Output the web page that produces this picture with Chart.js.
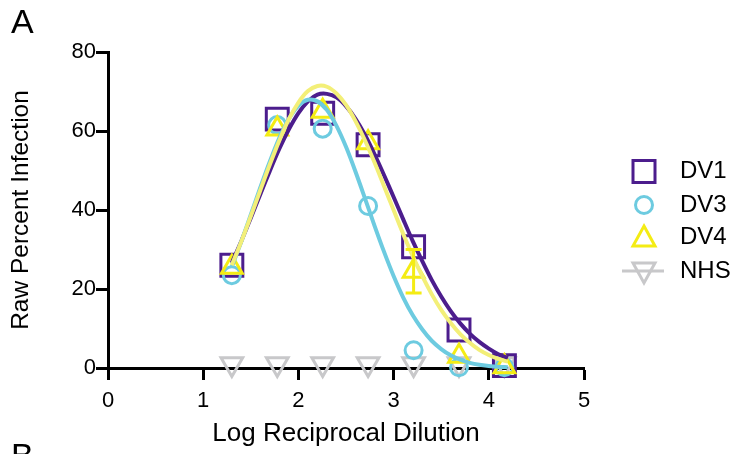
<!DOCTYPE html>
<html>
<head>
<meta charset="utf-8">
<script src="https://cdn.jsdelivr.net/npm/chart.js@4.4.1/dist/chart.umd.min.js"></script>
<style>
  html, body { margin: 0; padding: 0; background: #ffffff; }
  #wrap { width: 736px; height: 454px; position: relative; }
</style>
</head>
<body>
<div id="wrap"><canvas id="chart" width="736" height="454"></canvas></div>
<script>
// Log10 of the reciprocal serum dilutions (1:20 ... 1:14580)
const dilutions = [1.301, 1.778, 2.255, 2.732, 3.210, 3.687, 4.164];

// Mean raw percent infection per serotype
const dv1 = [26, 63, 64.5, 56.5, 30.7, 9.6, 0.6];
const dv3 = [23.5, 61.5, 60.6, 41, 4.5, 0.2, 0.2];
const dv4 = [25.5, 60.5, 65, 57, 24.5, 3, 0.3];
const nhs = [1, 1, 1, 1, 1, 1, 1];
const dv4Err = [0, 0, 0, 0, 5.5, 0, 0];

// Fitted curves, sampled every 0.1 log units from 1.3 to 4.2
const fitX = [1.3, 1.4, 1.5, 1.6, 1.7, 1.8, 1.9, 2.0, 2.1, 2.2, 2.3, 2.4, 2.5, 2.6, 2.7,
              2.8, 2.9, 3.0, 3.1, 3.2, 3.3, 3.4, 3.5, 3.6, 3.7, 3.8, 3.9, 4.0, 4.1, 4.2];
const fitDV1 = [26.6, 32.1, 38.0, 44.0, 49.9, 55.5, 60.4, 64.5, 67.5, 69.2, 69.4, 68.5, 66.3, 63.1, 59.0,
                54.1, 48.8, 43.3, 37.7, 32.2, 27.1, 22.3, 18.1, 14.4, 11.3, 8.7, 6.6, 4.9, 3.5, 2.5];
const fitDV3 = [25.6, 32.0, 38.8, 45.7, 52.3, 58.3, 63.1, 66.4, 67.9, 67.5, 65.3, 61.3, 56.0, 49.7, 42.9,
                36.0, 29.4, 23.3, 17.9, 13.4, 9.8, 6.9, 4.8, 3.2, 2.1, 1.3, 0.8, 0.5, 0.3, 0.2];
const fitDV4 = [26.0, 32.0, 38.4, 45.0, 51.5, 57.6, 63.0, 67.2, 70.1, 71.4, 71.2, 69.5, 66.6, 62.5, 57.6,
                52.0, 46.0, 40.0, 34.0, 28.4, 23.3, 18.7, 14.7, 11.4, 8.6, 6.4, 4.6, 3.3, 2.3, 1.6];

const xTicks = [0, 1, 2, 3, 4, 5];
const yTicks = [0, 20, 40, 60, 80];
const seriesNames = ['DV1', 'DV3', 'DV4', 'NHS'];

const PURPLE = '#4C1D8D';
const CYAN = '#6DCBE0';
const YELLOW = '#F4EC14';
const YELLOW_FIT = '#F3EF78';
const GREY = '#C8C8CA';
const FONT = '"Liberation Sans", Arial, sans-serif';

const pts = (xs, ys) => xs.map((x, i) => ({ x: x, y: ys[i] }));

function markerSet(label, ys, color, style, radius, order, rotation) {
  return {
    label: label,
    data: pts(dilutions, ys),
    showLine: false,
    pointStyle: style,
    pointRadius: radius,
    pointHoverRadius: radius,
    pointRotation: rotation || 0,
    pointBorderColor: color,
    pointBackgroundColor: 'rgba(0,0,0,0)',
    pointBorderWidth: 3,
    borderColor: color,
    backgroundColor: 'rgba(0,0,0,0)',
    order: order,
    clip: false
  };
}

function fitSet(ys, color, order) {
  return {
    label: 'fit',
    data: pts(fitX, ys),
    showLine: true,
    pointRadius: 0,
    pointHoverRadius: 0,
    borderColor: color,
    borderWidth: 4,
    tension: 0.3,
    fill: false,
    order: order,
    clip: false
  };
}

// Vertical error bars drawn through the chart's own scales
const errorBars = {
  id: 'errorBars',
  afterDatasetsDraw(chart) {
    const { ctx, scales: { x, y } } = chart;
    ctx.save();
    ctx.strokeStyle = YELLOW;
    ctx.lineWidth = 3;
    dilutions.forEach((d, i) => {
      const e = dv4Err[i];
      if (!e) return;
      const px = x.getPixelForValue(d);
      const top = y.getPixelForValue(dv4[i] + e);
      const bot = y.getPixelForValue(dv4[i] - e);
      ctx.beginPath();
      ctx.moveTo(px, top); ctx.lineTo(px, bot);
      ctx.moveTo(px - 8, top); ctx.lineTo(px + 8, top);
      ctx.moveTo(px - 8, bot); ctx.lineTo(px + 8, bot);
      ctx.stroke();
    });
    ctx.restore();
  }
};

// Legend at the right with the same marker symbols, plus panel letters
const sideLegend = {
  id: 'sideLegend',
  afterDraw(chart) {
    const ctx = chart.ctx;
    const sx = 644, tx = 680;
    const rows = [171.5, 205, 237, 271];
    ctx.save();
    ctx.lineWidth = 3;
    // DV1 square
    ctx.strokeStyle = PURPLE;
    ctx.strokeRect(sx - 11, rows[0] - 11, 22, 22);
    // DV3 circle
    ctx.strokeStyle = CYAN;
    ctx.beginPath(); ctx.arc(sx, rows[1], 8.5, 0, Math.PI * 2); ctx.stroke();
    // DV4 triangle
    ctx.strokeStyle = YELLOW;
    ctx.beginPath();
    ctx.moveTo(sx, rows[2] - 11);
    ctx.lineTo(sx + 11, rows[2] + 9);
    ctx.lineTo(sx - 11, rows[2] + 9);
    ctx.closePath(); ctx.stroke();
    // NHS line with inverted triangle
    ctx.strokeStyle = GREY;
    ctx.beginPath(); ctx.moveTo(sx - 22, rows[3]); ctx.lineTo(sx + 20, rows[3]); ctx.stroke();
    ctx.beginPath();
    ctx.moveTo(sx - 11, rows[3] - 8);
    ctx.lineTo(sx + 11, rows[3] - 8);
    ctx.lineTo(sx, rows[3] + 12);
    ctx.closePath(); ctx.stroke();

    ctx.fillStyle = '#000000';
    ctx.font = '24px ' + FONT;
    ctx.textBaseline = 'middle';
    ctx.textAlign = 'left';
    seriesNames.forEach((n, i) => ctx.fillText(n, tx, rows[i]));

    ctx.font = '34px ' + FONT;
    ctx.textBaseline = 'alphabetic';
    ctx.fillText('A', 11, 33);
    ctx.fillText('B', 11, 467);
    ctx.restore();
  }
};

new Chart(document.getElementById('chart'), {
  type: 'scatter',
  data: {
    datasets: [
      fitSet(fitDV4, YELLOW_FIT, 1),
      fitSet(fitDV3, CYAN, 2),
      fitSet(fitDV1, PURPLE, 3),
      markerSet('DV4', dv4, YELLOW, 'triangle', 12, 4),
      markerSet('DV3', dv3, CYAN, 'circle', 8.5, 5),
      markerSet('DV1', dv1, PURPLE, 'rect', 15.5, 6),
      markerSet('NHS', nhs, GREY, 'triangle', 12.5, 7, 180)
    ]
  },
  options: {
    responsive: false,
    animation: false,
    devicePixelRatio: 1,
    layout: { padding: { left: 0, top: 52, right: 152, bottom: 0 } },
    plugins: {
      legend: { display: false },
      tooltip: { enabled: false }
    },
    scales: {
      x: {
        type: 'linear',
        min: 0, max: 5,
        z: 1,
        afterFit(scale) { scale.height = 86; },
        afterBuildTicks(scale) { scale.ticks = xTicks.map(v => ({ value: v })); },
        border: { display: true, color: '#000000', width: 3 },
        grid: { drawOnChartArea: false, drawTicks: true, tickLength: 12, tickWidth: 3, tickColor: '#000000' },
        ticks: { color: '#000000', padding: 8, font: { family: FONT, size: 22 } },
        title: { display: true, text: 'Log Reciprocal Dilution', color: '#000000',
                 font: { family: FONT, size: 26 }, padding: { top: 0, bottom: 5 } }
      },
      y: {
        type: 'linear',
        min: 0, max: 80,
        z: 1,
        afterFit(scale) { scale.width = 108; },
        afterBuildTicks(scale) { scale.ticks = yTicks.map(v => ({ value: v })); },
        border: { display: true, color: '#000000', width: 3 },
        grid: { drawOnChartArea: false, drawTicks: true, tickLength: 12, tickWidth: 3, tickColor: '#000000' },
        ticks: { color: '#000000', padding: 0, font: { family: FONT, size: 22 } },
        title: { display: true, text: 'Raw Percent Infection', color: '#000000',
                 font: { family: FONT, size: 24.5 }, padding: { top: 7, bottom: 0 } }
      }
    }
  },
  plugins: [errorBars, sideLegend]
});
</script>
</body>
</html>
